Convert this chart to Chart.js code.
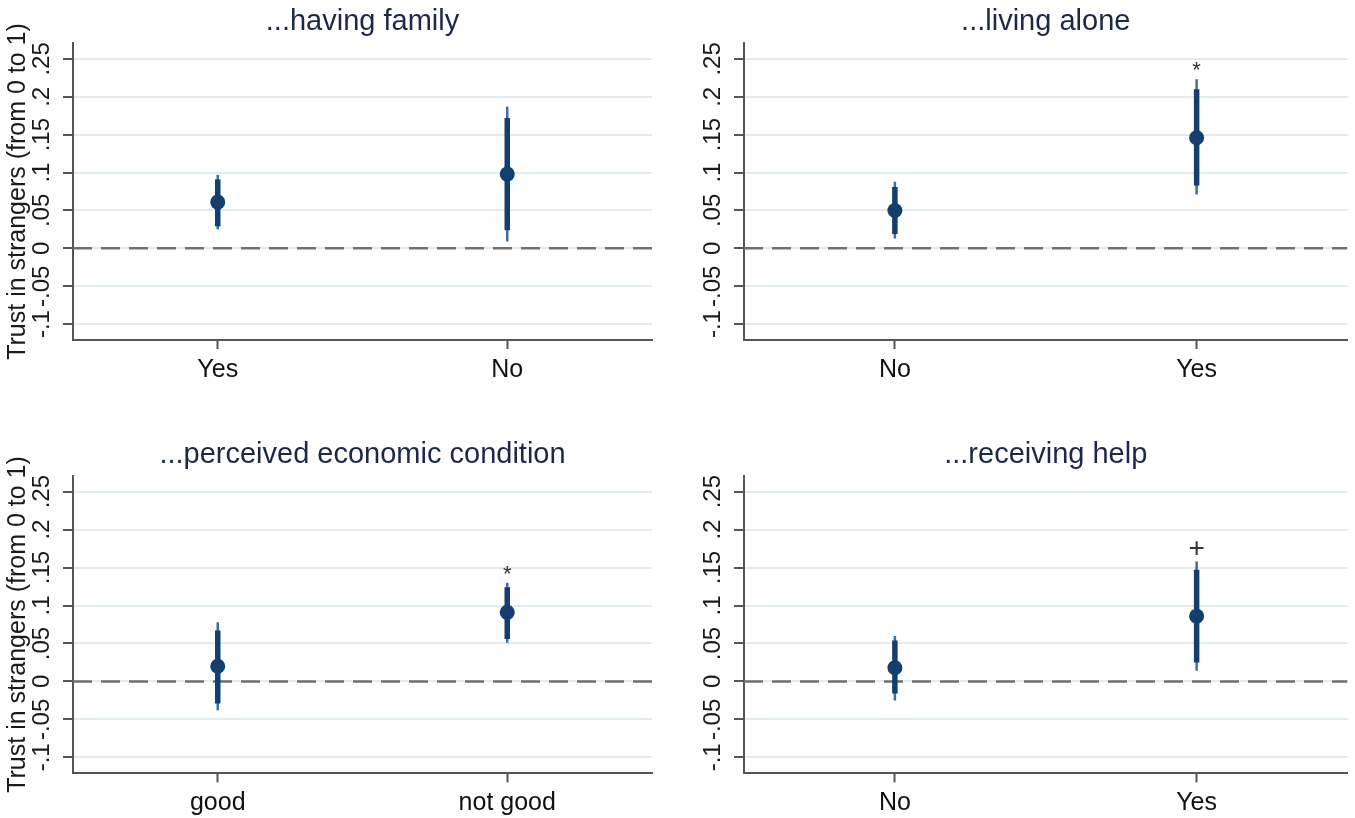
<!DOCTYPE html>
<html>
<head>
<meta charset="utf-8">
<script src="https://cdn.jsdelivr.net/npm/chart.js@4.4.1/dist/chart.umd.min.js"></script>
<style>
  html, body { margin: 0; padding: 0; background: #fff; }
  #wrap { position: relative; width: 1355px; height: 818px; }
  .panel { position: absolute; }
</style>
</head>
<body>
<div id="wrap">
  <div class="panel" style="left:0;top:0"><canvas id="c1" width="677" height="409"></canvas></div>
  <div class="panel" style="left:677px;top:0"><canvas id="c2" width="678" height="409"></canvas></div>
  <div class="panel" style="left:0;top:409px"><canvas id="c3" width="677" height="409"></canvas></div>
  <div class="panel" style="left:677px;top:409px"><canvas id="c4" width="678" height="409"></canvas></div>
</div>
<script>
// shared axis
const yTicks = [-0.1, -0.05, 0, 0.05, 0.1, 0.15, 0.2, 0.25];
const yTickLabels = ["-.1", "-.05", "0", ".05", ".1", ".15", ".2", ".25"];
const yTitle = "Trust in strangers (from 0 to 1)";
const xPos = [1, 2];

// ...having family
const famCats = ["Yes", "No"];
const famEst = [0.061, 0.098];
const famLo90 = [0.029, 0.024];
const famHi90 = [0.091, 0.172];
const famLo95 = [0.025, 0.009];
const famHi95 = [0.097, 0.187];
const famSig = ["", ""];

// ...living alone
const aloneCats = ["No", "Yes"];
const aloneEst = [0.050, 0.146];
const aloneLo90 = [0.019, 0.083];
const aloneHi90 = [0.081, 0.210];
const aloneLo95 = [0.013, 0.071];
const aloneHi95 = [0.088, 0.223];
const aloneSig = ["", "*"];

// ...perceived economic condition
const econCats = ["good", "not good"];
const econEst = [0.020, 0.091];
const econLo90 = [-0.029, 0.056];
const econHi90 = [0.067, 0.124];
const econLo95 = [-0.038, 0.051];
const econHi95 = [0.078, 0.130];
const econSig = ["", "*"];

// ...receiving help
const helpCats = ["No", "Yes"];
const helpEst = [0.018, 0.086];
const helpLo90 = [-0.016, 0.025];
const helpHi90 = [0.054, 0.147];
const helpLo95 = [-0.025, 0.014];
const helpHi95 = [0.060, 0.158];
const helpSig = ["", "+"];

const FONT = "'Liberation Sans', Arial, sans-serif";
const NARROW = "'Liberation Sans Narrow', 'Arial Narrow', 'Liberation Sans', Arial, sans-serif";
const NAVY = "#123f6d";
const LIGHT = "#3f6f9c";
const AXIS = "#555555";

function makePanel(id, p, g) {
  const datasets = [];
  datasets.push({
    data: xPos.map((x, i) => ({ x, y: p.est[i] })),
    pointRadius: 7.5, backgroundColor: NAVY, borderWidth: 0, showLine: false, order: 0
  });
  xPos.forEach((x, i) => {
    datasets.push({
      data: [{ x, y: p.lo90[i] }, { x, y: p.hi90[i] }],
      showLine: true, borderColor: NAVY, borderWidth: 5.5, pointRadius: 0, order: 1
    });
    datasets.push({
      data: [{ x, y: p.lo95[i] }, { x, y: p.hi95[i] }],
      showLine: true, borderColor: LIGHT, borderWidth: 2.5, pointRadius: 0, order: 2
    });
  });
  datasets.push({
    data: [{ x: 0.5, y: 0 }, { x: 2.5, y: 0 }],
    showLine: true, borderColor: "#707070", borderWidth: 2.5, borderDash: [19, 9],
    pointRadius: 0, order: 3
  });

  // significance marks above the upper 95% bound
  const sigMarks = {
    id: "sig" + id,
    afterDatasetsDraw(chart) {
      const { ctx, scales } = chart;
      ctx.save();
      ctx.fillStyle = "#333";
      ctx.textAlign = "center";
      ctx.textBaseline = "middle";
      p.sig.forEach((s, i) => {
        if (!s) return;
        const px = scales.x.getPixelForValue(xPos[i]);
        const py = scales.y.getPixelForValue(p.hi95[i]);
        if (s === "*") {
          ctx.font = "22px " + FONT;
          ctx.fillText(s, px, py - 8);
        } else {
          ctx.font = "28px " + FONT;
          ctx.fillText(s, px, py - 12);
        }
      });
      ctx.restore();
    }
  };

  return new Chart(document.getElementById(id), {
    type: "scatter",
    data: { datasets },
    options: {
      responsive: false,
      animation: false,
      events: [],
      layout: { padding: { left: 0, right: g.right, top: 0, bottom: 0 } },
      plugins: {
        legend: { display: false },
        tooltip: { enabled: false },
        title: {
          display: true, text: p.title, fullSize: false, color: "#1d2748",
          font: { family: FONT, size: 29, weight: "normal" },
          padding: { top: g.tTop, bottom: g.tBot }
        }
      },
      scales: {
        x: {
          type: "linear", min: 0.5, max: 2.5,
          afterBuildTicks: s => { s.ticks = xPos.map(v => ({ value: v })); },
          afterFit: s => { s.height = g.xh; },
          ticks: {
            callback: (v, i) => p.cats[i], color: "#111",
            font: { family: FONT, size: 25 }, padding: 6, maxRotation: 0, autoSkip: false
          },
          grid: { drawOnChartArea: false, drawTicks: true, tickLength: 9, tickColor: AXIS, tickWidth: 2 },
          border: { color: AXIS, width: 2 }
        },
        y: {
          min: -0.121, max: 0.271,
          afterBuildTicks: s => { s.ticks = yTicks.map(v => ({ value: v })); },
          afterFit: s => { s.width = g.yw; },
          ticks: {
            callback: (v, i) => yTickLabels[i], color: "#1a1a1a",
            font: { family: NARROW, size: 24 }, minRotation: 90, maxRotation: 90,
            crossAlign: "center", padding: 0, autoSkip: false
          },
          grid: { color: "#e1ecf2", lineWidth: 2, tickColor: AXIS, tickWidth: 2, tickLength: 10 },
          border: { color: AXIS, width: 2 },
          title: {
            display: p.showYTitle, text: yTitle, color: "#1a1a1a",
            font: { family: NARROW, size: 25, lineHeight: 1 }, padding: { top: 6, bottom: 0 }
          }
        }
      }
    },
    plugins: [sigMarks]
  });
}

makePanel("c1", {
  title: "...having family", cats: famCats, est: famEst, lo90: famLo90, hi90: famHi90,
  lo95: famLo95, hi95: famHi95, sig: famSig, showYTitle: true
}, { yw: 73, right: 25, tTop: 5, tBot: 3.2, xh: 69 });

makePanel("c2", {
  title: "...living alone", cats: aloneCats, est: aloneEst, lo90: aloneLo90, hi90: aloneHi90,
  lo95: aloneLo95, hi95: aloneHi95, sig: aloneSig, showYTitle: false
}, { yw: 67, right: 7, tTop: 5, tBot: 3.2, xh: 69 });

makePanel("c3", {
  title: "...perceived economic condition", cats: econCats, est: econEst, lo90: econLo90, hi90: econHi90,
  lo95: econLo95, hi95: econHi95, sig: econSig, showYTitle: true
}, { yw: 73, right: 25, tTop: 28.6, tBot: 3.3, xh: 44.7 });

makePanel("c4", {
  title: "...receiving help", cats: helpCats, est: helpEst, lo90: helpLo90, hi90: helpHi90,
  lo95: helpLo95, hi95: helpHi95, sig: helpSig, showYTitle: false
}, { yw: 67, right: 7, tTop: 28.6, tBot: 3.3, xh: 44.7 });
</script>
</body>
</html>
